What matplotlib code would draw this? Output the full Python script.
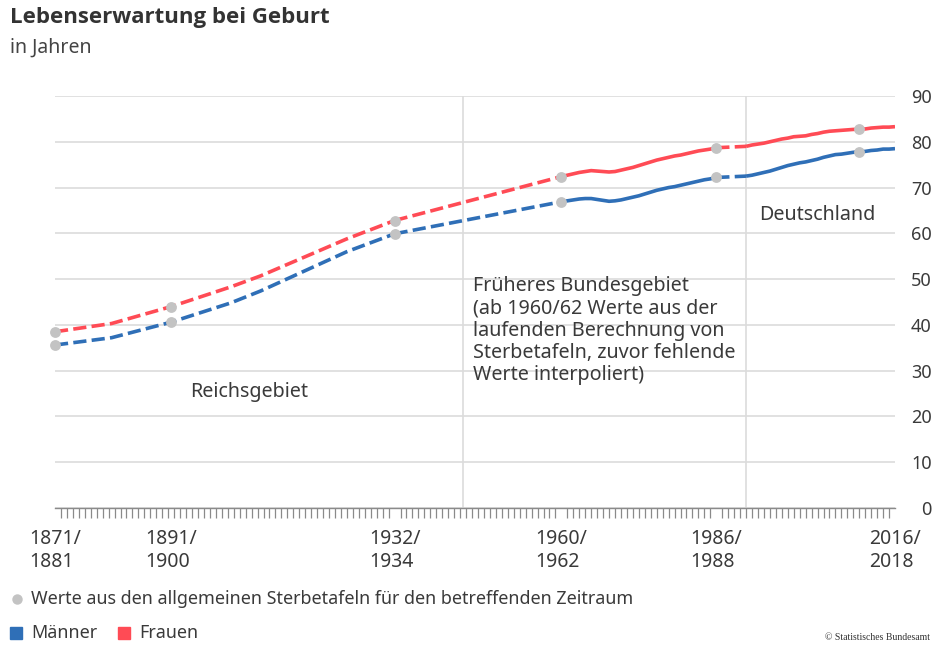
import numpy as np
import matplotlib
matplotlib.use("Agg")
import matplotlib.pyplot as plt

plt.rcParams['font.family'] = ['Noto Sans', 'DejaVu Sans']
plt.rcParams['lines.scale_dashes'] = False

# Reichsgebiet (allgemeine Sterbetafeln, Periodenmitte)
years_reich = [1876, 1885.5, 1895.5, 1905.5, 1910.5, 1925, 1933]
men_reich = [35.6, 37.2, 40.6, 44.8, 47.4, 56.0, 59.9]
women_reich = [38.5, 40.3, 44.0, 48.3, 50.7, 58.8, 62.8]

# Frueheres Bundesgebiet, laufende Berechnung 1960/62 - 1986/88
years_brd = list(range(1961, 1988))
men_brd = [66.9, 67.1, 67.3, 67.5, 67.6, 67.6, 67.4, 67.2, 67.0, 67.1, 67.3, 67.6, 67.9,
           68.2, 68.6, 69.0, 69.4, 69.7, 70.0, 70.2, 70.5, 70.8, 71.1, 71.4, 71.7, 71.9, 72.2]
women_brd = [72.4, 72.7, 73.0, 73.3, 73.5, 73.7, 73.6, 73.5, 73.4, 73.5, 73.8, 74.1, 74.4,
             74.8, 75.2, 75.6, 76.0, 76.3, 76.6, 76.9, 77.1, 77.4, 77.7, 78.0, 78.2, 78.4, 78.7]

# Deutschland 1991/93 - 2016/18
years_de = list(range(1992, 2018))
men_de = [72.5, 72.7, 73.0, 73.3, 73.6, 74.0, 74.4, 74.8, 75.1, 75.4, 75.6, 75.9, 76.2,
          76.6, 76.9, 77.2, 77.3, 77.5, 77.7, 77.8, 77.9, 78.1, 78.2, 78.4, 78.4, 78.5]
women_de = [79.0, 79.3, 79.5, 79.7, 80.0, 80.3, 80.6, 80.8, 81.1, 81.2, 81.3, 81.6, 81.8,
            82.1, 82.3, 82.4, 82.5, 82.6, 82.7, 82.7, 82.8, 83.0, 83.1, 83.2, 83.2, 83.3]

# allgemeine Sterbetafeln (graue Punkte)
tafel_years = [1876, 1895.5, 1933, 1961, 1987, 2011]

tick_years = [1876, 1895.5, 1933, 1961, 1987, 2017]
tick_labels = ["1871/\n1881", "1891/\n1900", "1932/\n1934", "1960/\n1962", "1986/\n1988", "2016/\n2018"]

blue = "#2f6fb7"
red = "#ff4b55"
dot_gray = "#c3c3c3"
grid_gray = "#dcdcdc"
text_col = "#3a3a3a"

fig = plt.figure(figsize=(9.39, 6.5), dpi=100)
ax = fig.add_axes([55/939, 1-508/650, 840/939, (508-96)/650])

lw = 2.6
dash = (9.5, 3.8)
all_years = years_reich + years_brd + years_de

def draw(years, vals, color, style):
    line, = ax.plot(years, vals, color=color, lw=lw, solid_capstyle='butt', dash_capstyle='butt', zorder=3)
    if style == 'dashed':
        line.set_dashes(dash)
    return line

for vals_r, vals_b, vals_d, col in [(men_reich, men_brd, men_de, blue), (women_reich, women_brd, women_de, red)]:
    draw(years_reich, vals_r, col, 'dashed')
    draw([years_reich[-1], years_brd[0]], [vals_r[-1], vals_b[0]], col, 'dashed')
    draw(years_brd, vals_b, col, 'solid')
    draw([years_brd[-1], years_de[0]], [vals_b[-1], vals_d[0]], col, 'dashed')
    draw(years_de, vals_d, col, 'solid')

    yrs = np.array(all_years)
    vv = np.array(vals_r + vals_b + vals_d)
    dots = [vv[np.argmin(np.abs(yrs - t))] for t in tafel_years]
    ax.plot(tafel_years, dots, 'o', color=dot_gray, ms=7.8, mew=0, zorder=5, clip_on=False)

# Gebietsgrenzen
for xv in [1944.5, 1992]:
    ax.axvline(xv, color=grid_gray, lw=1.2, zorder=1)

ax.set_xlim(1876, 2017)
ax.set_ylim(0, 90)
ax.set_yticks(range(0, 91, 10))
ax.yaxis.tick_right()
ax.tick_params(axis='y', length=0, pad=26.5, labelsize=13, labelcolor=text_col)
for lab in ax.get_yticklabels():
    lab.set_horizontalalignment('right')
ax.grid(axis='y', color=grid_gray, lw=1.2, zorder=0)
ax.set_axisbelow(True)

ax.set_xticks(tick_years)
ax.set_xticklabels(tick_labels, multialignment='left')
ax.set_xticks(np.arange(1876, 2017.5, 1.0), minor=True)
ax.tick_params(axis='x', which='major', length=0, pad=15, labelsize=14, labelcolor=text_col)
ax.tick_params(axis='x', which='minor', length=7, width=0.9, color="#8a8a8a")
for lab in ax.get_xticklabels():
    lab.set_linespacing(1.2)

for s in ['top', 'left', 'right']:
    ax.spines[s].set_visible(False)
ax.spines['bottom'].set_color("#8a8a8a")
ax.spines['bottom'].set_linewidth(1.0)

ax.text(1908.6, 25.3, "Reichsgebiet", ha='center', va='center', fontsize=14.2, color=text_col)
ax.text(1946.2, 50.6, "Früheres Bundesgebiet\n(ab 1960/62 Werte aus der\nlaufenden Berechnung von\nSterbetafeln, zuvor fehlende\nWerte interpoliert)",
        ha='left', va='top', fontsize=14.2, color=text_col, linespacing=1.15)
ax.text(1994.2, 64.0, "Deutschland", ha='left', va='center', fontsize=14.2, color=text_col)

fig.text(10/939, 1-18/650, "Lebenserwartung bei Geburt", fontsize=16, family='Open Sans', fontweight='bold', color="#333333", va='center')
fig.text(10/939, 1-48/650, "in Jahren", fontsize=14, color="#444444", va='center')

# Legende
fig.lines.append(plt.Line2D([17/939], [1-599/650], marker='o', color=dot_gray, ms=7.5, mew=0, transform=fig.transFigure))
fig.text(31/939, 1-599/650, "Werte aus den allgemeinen Sterbetafeln für den betreffenden Zeitraum", fontsize=12.9, color=text_col, va='center')
fig.patches.append(plt.Rectangle((10/939, 1-639/650), 12/939, 12/650, color=blue, transform=fig.transFigure))
fig.text(31/939, 1-633/650, "Männer", fontsize=12.9, color=text_col, va='center')
fig.patches.append(plt.Rectangle((118/939, 1-639/650), 12/939, 12/650, color=red, transform=fig.transFigure))
fig.text(139/939, 1-633/650, "Frauen", fontsize=12.9, color=text_col, va='center')

fig.text(930/939, 1-638/650, "© Statistisches Bundesamt", fontsize=7, family='Liberation Serif', color="#333333", ha='right', va='center')

fig.savefig("out.png", dpi=100)
